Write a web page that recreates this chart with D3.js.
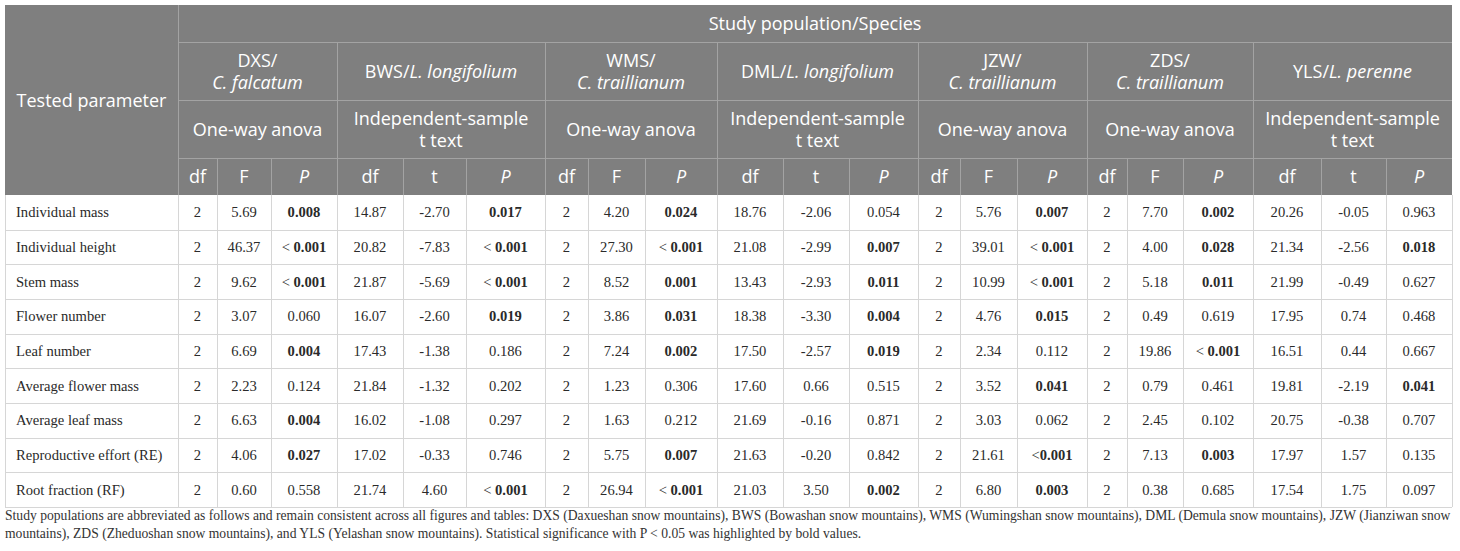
<!DOCTYPE html>
<html><head><meta charset="utf-8">
<script src="https://cdn.jsdelivr.net/npm/d3@7/dist/d3.min.js"></script>
<style>
html,body{margin:0;padding:0;background:#fff;}
svg{display:block;}
</style></head>
<body>
<svg id="chart" width="1460" height="551"></svg>
<script>
// ---------- DATA ----------
const superHeader = "Study population/Species";
const populations = ["DXS", "BWS", "WMS", "DML", "JZW", "ZDS", "YLS"];
const species = ["C. falcatum", "L. longifolium", "C. traillianum", "L. longifolium", "C. traillianum", "C. traillianum", "L. perenne"];
const speciesTwoLine = [true, false, true, false, true, true, false];
const tests = ["One-way anova", "Independent-sample t text", "One-way anova", "Independent-sample t text", "One-way anova", "One-way anova", "Independent-sample t text"];
const statLabels = [["df","F","P"],["df","t","P"],["df","F","P"],["df","t","P"],["df","F","P"],["df","F","P"],["df","t","P"]];
const parameters = ["Individual mass","Individual height","Stem mass","Flower number","Leaf number","Average flower mass","Average leaf mass","Reproductive effort (RE)","Root fraction (RF)"];
const rowIndividualMass   = ["2","5.69","0.008","14.87","-2.70","0.017","2","4.20","0.024","18.76","-2.06","0.054","2","5.76","0.007","2","7.70","0.002","20.26","-0.05","0.963"];
const rowIndividualHeight = ["2","46.37","< 0.001","20.82","-7.83","< 0.001","2","27.30","< 0.001","21.08","-2.99","0.007","2","39.01","< 0.001","2","4.00","0.028","21.34","-2.56","0.018"];
const rowStemMass         = ["2","9.62","< 0.001","21.87","-5.69","< 0.001","2","8.52","0.001","13.43","-2.93","0.011","2","10.99","< 0.001","2","5.18","0.011","21.99","-0.49","0.627"];
const rowFlowerNumber     = ["2","3.07","0.060","16.07","-2.60","0.019","2","3.86","0.031","18.38","-3.30","0.004","2","4.76","0.015","2","0.49","0.619","17.95","0.74","0.468"];
const rowLeafNumber       = ["2","6.69","0.004","17.43","-1.38","0.186","2","7.24","0.002","17.50","-2.57","0.019","2","2.34","0.112","2","19.86","< 0.001","16.51","0.44","0.667"];
const rowAvgFlowerMass    = ["2","2.23","0.124","21.84","-1.32","0.202","2","1.23","0.306","17.60","0.66","0.515","2","3.52","0.041","2","0.79","0.461","19.81","-2.19","0.041"];
const rowAvgLeafMass      = ["2","6.63","0.004","16.02","-1.08","0.297","2","1.63","0.212","21.69","-0.16","0.871","2","3.03","0.062","2","2.45","0.102","20.75","-0.38","0.707"];
const rowRE               = ["2","4.06","0.027","17.02","-0.33","0.746","2","5.75","0.007","21.63","-0.20","0.842","2","21.61","<0.001","2","7.13","0.003","17.97","1.57","0.135"];
const rowRF               = ["2","0.60","0.558","21.74","4.60","< 0.001","2","26.94","< 0.001","21.03","3.50","0.002","2","6.80","0.003","2","0.38","0.685","17.54","1.75","0.097"];
const tableValues = [rowIndividualMass,rowIndividualHeight,rowStemMass,rowFlowerNumber,rowLeafNumber,rowAvgFlowerMass,rowAvgLeafMass,rowRE,rowRF];
const footnoteLines = [
 "Study populations are abbreviated as follows and remain consistent across all figures and tables: DXS (Daxueshan snow mountains), BWS (Bowashan snow mountains), WMS (Wumingshan snow mountains), DML (Demula snow mountains), JZW (Jianziwan snow",
 "mountains), ZDS (Zheduoshan snow mountains), and YLS (Yelashan snow mountains). Statistical significance with P < 0.05 was highlighted by bold values."
];

// ---------- LAYOUT ----------
const colEdges = [5,178,217,271,337,403,466,545,588,645,717,783,849,918,960,1017,1087,1127,1183,1253,1321,1386,1452];
const headerEdges = [5,42,100,158,195];
const tableBottom = 507;
const HEAD_BG = "#7f7f7f", HEAD_LINE = "#a3a3a3", GRID = "#d6d6d6";
const sans = "'Open Sans', Lato, sans-serif";
const serif = "'Liberation Serif', 'DejaVu Serif', serif";

const svg = d3.select("#chart");
const nCols = colEdges.length - 1;
const xL = d3.scaleOrdinal().domain(d3.range(nCols)).range(colEdges.slice(0,-1));
const xR = d3.scaleOrdinal().domain(d3.range(nCols)).range(colEdges.slice(1));
const xC = i => (xL(i)+xR(i))/2;
const yRow = d3.scaleBand().domain(d3.range(parameters.length)).range([headerEdges[4], tableBottom]);

// header background
svg.append("rect").attr("x",colEdges[0]).attr("y",headerEdges[0])
  .attr("width",colEdges[nCols]-colEdges[0]).attr("height",headerEdges[4]-headerEdges[0]).attr("fill",HEAD_BG);

const hg = svg.append("g").attr("stroke",HEAD_LINE).attr("stroke-width",1).attr("shape-rendering","crispEdges");
hg.append("line").attr("x1",colEdges[1]).attr("x2",colEdges[nCols]).attr("y1",headerEdges[1]+0.5).attr("y2",headerEdges[1]+0.5);
hg.append("line").attr("x1",colEdges[1]).attr("x2",colEdges[nCols]).attr("y1",headerEdges[2]+0.5).attr("y2",headerEdges[2]+0.5);
hg.append("line").attr("x1",colEdges[1]).attr("x2",colEdges[nCols]).attr("y1",headerEdges[3]+0.5).attr("y2",headerEdges[3]+0.5);
hg.append("line").attr("x1",colEdges[1]+0.5).attr("x2",colEdges[1]+0.5).attr("y1",headerEdges[0]).attr("y2",headerEdges[4]);
populations.forEach((p,g)=>{
  const e = 1 + g*3;
  if (g>0) hg.append("line").attr("x1",colEdges[e]+0.5).attr("x2",colEdges[e]+0.5).attr("y1",headerEdges[1]).attr("y2",headerEdges[4]);
  [1,2].forEach(k=>{
    hg.append("line").attr("x1",colEdges[e+k]+0.5).attr("x2",colEdges[e+k]+0.5).attr("y1",headerEdges[3]).attr("y2",headerEdges[4]);
  });
});

// header text
const ht = svg.append("g").attr("fill","#fff").attr("font-family",sans).attr("font-size",18).attr("text-anchor","middle");
ht.append("text").attr("x",(colEdges[0]+colEdges[1])/2).attr("y",(headerEdges[0]+headerEdges[4])/2+7).text("Tested parameter");
ht.append("text").attr("x",(colEdges[1]+colEdges[nCols])/2).attr("y",(headerEdges[0]+headerEdges[1])/2+6.5).text(superHeader);
populations.forEach((p,g)=>{
  const cx = (colEdges[1+g*3]+colEdges[4+g*3])/2;
  const cy2 = (headerEdges[1]+headerEdges[2])/2;
  if (speciesTwoLine[g]) {
    const t = ht.append("text").attr("y",cy2-11+6.5);
    t.append("tspan").attr("x",cx).text(p+"/");
    t.append("tspan").attr("x",cx).attr("dy",22).attr("font-style","italic").text(species[g]);
  } else {
    const t = ht.append("text").attr("x",cx).attr("y",cy2+6.5);
    t.append("tspan").text(p+"/");
    t.append("tspan").attr("font-style","italic").text(species[g]);
  }
  const cy3 = (headerEdges[2]+headerEdges[3])/2;
  const words = tests[g];
  if (words.startsWith("Independent")) {
    const t = ht.append("text").attr("y",cy3-11+6.5);
    t.append("tspan").attr("x",cx).text("Independent-sample");
    t.append("tspan").attr("x",cx).attr("dy",22).text("t text");
  } else {
    ht.append("text").attr("x",cx).attr("y",cy3+6.5).text(words);
  }
  statLabels[g].forEach((s,k)=>{
    const c = g*3+1+k;
    ht.append("text").attr("x",xC(c)).attr("y",(headerEdges[3]+headerEdges[4])/2+6.5)
      .attr("font-style", s==="P"?"italic":"normal").text(s);
  });
});

// body grid
const bg = svg.append("g").attr("stroke",GRID).attr("stroke-width",1).attr("shape-rendering","crispEdges");
parameters.forEach((p,i)=>{
  const yy = Math.round(yRow(i)+yRow.bandwidth())+0.5;
  bg.append("line").attr("x1",colEdges[0]).attr("x2",colEdges[nCols]).attr("y1",yy).attr("y2",yy);
});
colEdges.forEach((e,i)=>{
  bg.append("line").attr("x1",e+0.5).attr("x2",e+0.5).attr("y1",headerEdges[4]).attr("y2",tableBottom);
});

// body text
const body = svg.append("g").attr("font-family",serif).attr("font-size",14.6).attr("fill","#2a2a2a");
parameters.forEach((p,i)=>{
  const cy = yRow(i)+yRow.bandwidth()/2+5;
  body.append("text").attr("x",colEdges[0]+11).attr("y",cy).text(p);
  tableValues[i].forEach((v,j)=>{
    const c = j+1;
    const isP = (j%3)===2;
    const t = body.append("text").attr("x",xC(c)).attr("y",cy).attr("text-anchor","middle");
    const lt = v.trim().startsWith("<");
    const num = parseFloat(v.replace("<","").trim());
    const sig = isP && (lt || num < 0.05);
    if (lt) {
      const rest = v.replace("<","");
      t.append("tspan").text("<");
      t.append("tspan").attr("font-weight", sig?"bold":"normal").text(rest.startsWith(" ")? "\u00a0"+rest.trim() : rest);
    } else {
      t.attr("font-weight", sig?"bold":"normal").text(v);
    }
  });
});

// footnote
const fn = svg.append("g").attr("font-family",serif).attr("fill","#333");
const targetW = 1446;
const l1 = fn.append("text").attr("x",5).attr("y",519.5).attr("font-size",13).text(footnoteLines[0]);
const w = l1.node().getComputedTextLength();
const fs = 13*targetW/w;
l1.attr("font-size",fs);
fn.append("text").attr("x",5).attr("y",537.5).attr("font-size",fs).text(footnoteLines[1]);
</script>
</body></html>
